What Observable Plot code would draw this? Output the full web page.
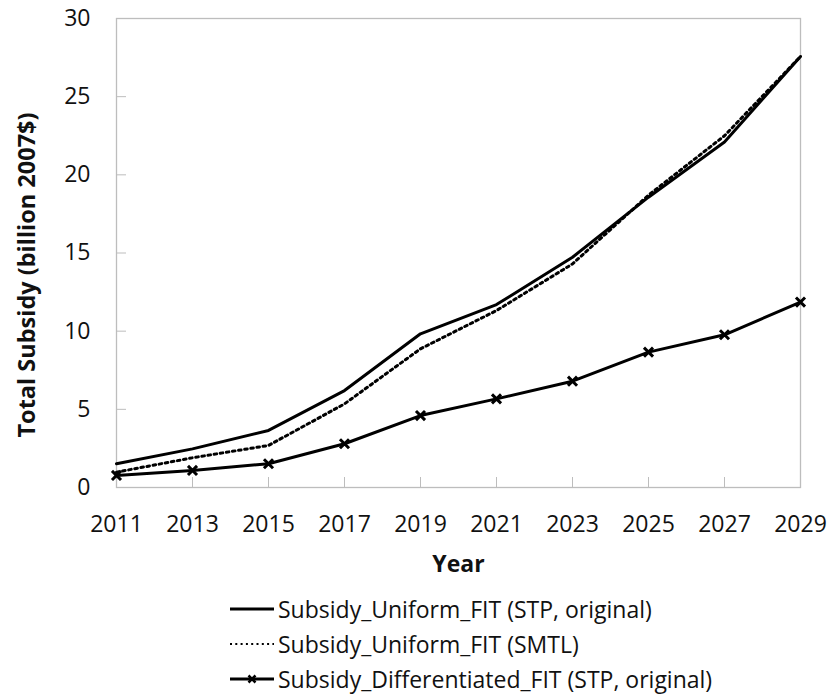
<!DOCTYPE html>
<html>
<head>
<meta charset="utf-8">
<script src="https://cdn.jsdelivr.net/npm/d3@7"></script>
<script src="https://cdn.jsdelivr.net/npm/@observablehq/plot@0.6"></script>
<style>
  body { margin: 0; background: #fff; font-family: "Open Sans", sans-serif; }
  #legend { margin-left: 230px; padding-top: 1.5px; }
  .row { display: flex; align-items: center; height: 35px; font-size: 23px; color: #111; white-space: nowrap; }
  .row svg { margin-right: 4px; }
</style>
</head>
<body>
<div id="chart"></div>
<div id="legend"></div>
<script>
const years = [2011, 2013, 2015, 2017, 2019, 2021, 2023, 2025, 2027, 2029];
const uniformSTP = [1.52, 2.47, 3.65, 6.2, 9.83, 11.7, 14.73, 18.57, 22.1, 27.57];
const uniformSMTL = [0.98, 1.9, 2.69, 5.35, 8.87, 11.32, 14.3, 18.7, 22.5, 27.57];
const differentiatedSTP = [0.77, 1.09, 1.52, 2.8, 4.6, 5.67, 6.8, 8.66, 9.77, 11.86];
const yTicks = [0, 5, 10, 15, 20, 25, 30];
const seriesNames = [
  "Subsidy_Uniform_FIT (STP, original)",
  "Subsidy_Uniform_FIT (SMTL)",
  "Subsidy_Differentiated_FIT (STP, original)"
];

const rows = (vals, name) => years.map((y, i) => ({year: y, value: vals[i], series: name}));
const dSTP = rows(uniformSTP, seriesNames[0]);
const dSMTL = rows(uniformSMTL, seriesNames[1]);
const dDiff = rows(differentiatedSTP, seriesNames[2]);

const chart = Plot.plot({
  width: 830,
  height: 590,
  marginLeft: 116,
  marginRight: 30,
  marginTop: 18,
  marginBottom: 103,
  style: {fontFamily: "Open Sans, sans-serif", color: "#111", background: "#fff"},
  x: {domain: [2011, 2029]},
  y: {domain: [0, 30]},
  marks: [
    Plot.frame({stroke: "#bdbdbd", strokeWidth: 1.3}),
    Plot.axisX({ticks: years, tickSize: -10, stroke: "#bdbdbd", tickFormat: () => "", label: null}),
    Plot.axisY({ticks: yTicks, tickSize: -10, stroke: "#bdbdbd", tickFormat: () => "", label: null}),
    Plot.axisX({ticks: years, tickSize: 0, tickPadding: 28, fontSize: 23, tickFormat: d => String(d),
      label: "Year", labelAnchor: "center", labelArrow: "none", labelOffset: 84}),
    Plot.axisY({ticks: yTicks, tickSize: 0, tickPadding: 26, fontSize: 23, tickFormat: d => String(d),
      label: null}),
    Plot.text(["Total Subsidy (billion 2007$)"], {frameAnchor: "left", textAnchor: "middle", rotate: -90,
      dx: -89, dy: 22, fontSize: 23.5, fontWeight: "bold", text: d => d}),
    Plot.line(dSTP, {x: "year", y: "value", stroke: "black", strokeWidth: 3}),
    Plot.line(dSMTL, {x: "year", y: "value", stroke: "black", strokeWidth: 3, strokeDasharray: "2.6,3.6"}),
    Plot.line(dDiff, {x: "year", y: "value", stroke: "black", strokeWidth: 3}),
    Plot.dot(dDiff, {x: "year", y: "value", symbol: "times", r: 4.2, stroke: "black", strokeWidth: 3})
  ]
});
document.getElementById("chart").append(chart);
chart.querySelectorAll("text").forEach(t => {
  if (t.textContent === "Year") { t.setAttribute("font-weight", "bold"); t.setAttribute("font-size", "23"); }
});

const legend = document.getElementById("legend");
const styles = [
  {dash: null, marker: false},
  {dash: "2,3.3", marker: false},
  {dash: null, marker: true}
];
seriesNames.forEach((name, i) => {
  const row = document.createElement("div");
  row.className = "row";
  const s = styles[i];
  const ns = "http://www.w3.org/2000/svg";
  const svg = document.createElementNS(ns, "svg");
  svg.setAttribute("width", 44); svg.setAttribute("height", 14);
  const line = document.createElementNS(ns, "line");
  line.setAttribute("x1", 0); line.setAttribute("x2", 44);
  line.setAttribute("y1", 7); line.setAttribute("y2", 7);
  line.setAttribute("stroke", "black");
  line.setAttribute("stroke-width", s.dash ? 2 : 3);
  if (s.dash) line.setAttribute("stroke-dasharray", s.dash);
  svg.append(line);
  if (s.marker) {
    const p = document.createElementNS(ns, "path");
    p.setAttribute("d", "M18.5,3.5L25.5,10.5M25.5,3.5L18.5,10.5");
    p.setAttribute("stroke", "black"); p.setAttribute("stroke-width", 2.5);
    svg.append(p);
  }
  const label = document.createElement("span");
  label.textContent = name;
  row.append(svg, label);
  legend.append(row);
});
</script>
</body>
</html>
